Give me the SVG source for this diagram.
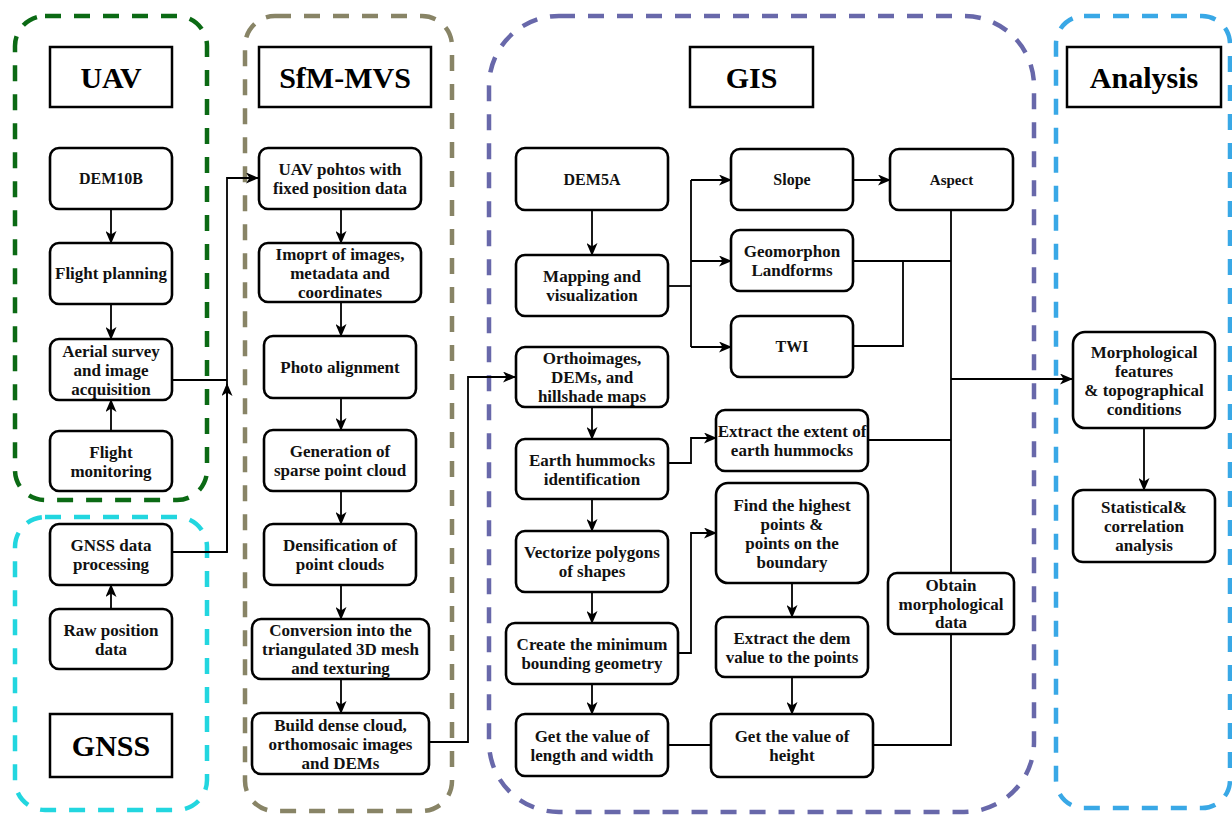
<svg xmlns="http://www.w3.org/2000/svg" width="1232" height="816" viewBox="0 0 1232 816">
<defs>
<marker id="ah" markerUnits="userSpaceOnUse" markerWidth="13" markerHeight="11" refX="12" refY="5.5" orient="auto">
<path d="M0,0 L13,5.5 L0,11 L3.5,5.5 z" fill="#000"/>
</marker>
<style>
.cont{fill:none;stroke-width:4.5;stroke-dasharray:16 13}
.title rect{fill:#fff;stroke:#000;stroke-width:2.5}
.title text{font-family:"Liberation Serif",serif;font-weight:bold;font-size:30px;text-anchor:middle;dominant-baseline:central;fill:#000}
.node rect{fill:#fff;stroke:#000;stroke-width:2.6}
.node text{font-family:"Liberation Serif",serif;font-weight:bold;font-size:17px;text-anchor:middle;dominant-baseline:central;fill:#111}
.sm text{font-size:16px}
#conn path{fill:none;stroke:#000;stroke-width:1.8}
#conn path.a{marker-end:url(#ah)}
</style>
</defs>
<rect width="1232" height="816" fill="#fff"/>
<g id="containers">
<rect class="cont" x="15" y="16" width="192" height="484" rx="30" stroke="#0b6a14"/>
<rect class="cont" x="15" y="517" width="192" height="293" rx="30" stroke="#22d6df"/>
<rect class="cont" x="245" y="16" width="207" height="795" rx="30" stroke="#888466"/>
<rect class="cont" x="489" y="16" width="545" height="796" rx="70" stroke="#6868aa"/>
<rect class="cont" x="1056" y="16" width="174" height="792" rx="28" stroke="#39a8e6"/>
</g>
<g id="conn">
<path class="a" d="M111,209 V243"/>
<path class="a" d="M111,304 V339"/>
<path class="a" d="M111,431 V400"/>
<path class="a" d="M111,609 V585"/>
<path d="M172,380 H227"/>
<path class="a" d="M172,552 H227 V178 H258"/>
<path class="a" d="M227,552 V384"/>
<path class="a" d="M341,209 V243"/>
<path class="a" d="M341,302 V336"/>
<path class="a" d="M341,398 V430"/>
<path class="a" d="M341,491 V524"/>
<path class="a" d="M341,585 V619"/>
<path class="a" d="M341,679 V713"/>
<path class="a" d="M429,742 H468 V377 H515"/>
<path class="a" d="M592,210 V255"/>
<path class="a" d="M592,407 V439"/>
<path class="a" d="M592,499 V531"/>
<path class="a" d="M592,592 V623"/>
<path class="a" d="M592,684 V714"/>
<path d="M668,286 H691"/>
<path d="M691,180 V347"/>
<path class="a" d="M691,180 H731"/>
<path class="a" d="M691,261 H731"/>
<path class="a" d="M691,347 H731"/>
<path class="a" d="M853,180 H890"/>
<path d="M951,210 V573"/>
<path d="M853,261 H951"/>
<path d="M853,346 H903 V261"/>
<path d="M868,440 H951"/>
<path class="a" d="M951,379 H1072"/>
<path d="M951,634 V745 H873"/>
<path d="M668,745 H711"/>
<path class="a" d="M668,463 H691 V438 H716"/>
<path class="a" d="M678,653 H691 V533 H716"/>
<path class="a" d="M792,583 V617"/>
<path class="a" d="M792,677 V714"/>
<path class="a" d="M1144,428 V490"/>
</g>
<g id="t-uav" class="title"><rect x="50" y="47" width="122" height="60"/><text x="111" y="77">UAV</text></g>
<g id="t-gnss" class="title"><rect x="50" y="714" width="122" height="63"/><text x="111" y="745.5">GNSS</text></g>
<g id="t-sfm" class="title"><rect x="259" y="47" width="172" height="60"/><text x="345" y="77">SfM-MVS</text></g>
<g id="t-gis" class="title"><rect x="690" y="47" width="123" height="60"/><text x="751.5" y="77">GIS</text></g>
<g id="t-analysis" class="title"><rect x="1067" y="47" width="154" height="60"/><text x="1144" y="77">Analysis</text></g>

<g id="n-dem10b" class="node sm"><rect x="50" y="148" width="122" height="61" rx="9"/><text x="111" y="178.5">DEM10B</text></g>
<g id="n-flightplan" class="node"><rect x="50" y="243" width="122" height="61" rx="9"/><text x="111" y="273.5">Flight planning</text></g>
<g id="n-aerial" class="node"><rect x="50" y="339" width="122" height="61" rx="9"/><text><tspan x="111" y="350.5">Aerial survey</tspan><tspan x="111" y="369.5">and image</tspan><tspan x="111" y="388.5">acquisition</tspan></text></g>
<g id="n-flightmon" class="node"><rect x="50" y="431" width="122" height="60" rx="9"/><text><tspan x="111" y="451.5">Flight</tspan><tspan x="111" y="470.5">monitoring</tspan></text></g>
<g id="n-gnssproc" class="node"><rect x="50" y="524" width="122" height="61" rx="9"/><text><tspan x="111" y="545">GNSS data</tspan><tspan x="111" y="564">processing</tspan></text></g>
<g id="n-raw" class="node"><rect x="50" y="609" width="122" height="60" rx="9"/><text><tspan x="111" y="629.5">Raw position</tspan><tspan x="111" y="648.5">data</tspan></text></g>

<g id="n-photos" class="node"><rect x="259" y="148" width="162" height="61" rx="9"/><text><tspan x="340" y="169">UAV pohtos with</tspan><tspan x="340" y="188">fixed position data</tspan></text></g>
<g id="n-import" class="node"><rect x="259" y="243" width="162" height="59" rx="9"/><text><tspan x="340" y="253.5">Imoprt of images,</tspan><tspan x="340" y="272.5">metadata and</tspan><tspan x="340" y="291.5">coordinates</tspan></text></g>
<g id="n-align" class="node"><rect x="264" y="336" width="152" height="62" rx="9"/><text x="340" y="367">Photo alignment</text></g>
<g id="n-sparse" class="node"><rect x="264" y="430" width="152" height="61" rx="9"/><text><tspan x="340" y="451">Generation of</tspan><tspan x="340" y="470">sparse point cloud</tspan></text></g>
<g id="n-dense" class="node"><rect x="264" y="524" width="152" height="61" rx="9"/><text><tspan x="340" y="545">Densification of</tspan><tspan x="340" y="564">point clouds</tspan></text></g>
<g id="n-mesh" class="node"><rect x="252" y="619" width="177" height="60" rx="9"/><text><tspan x="340.5" y="630">Conversion into the</tspan><tspan x="340.5" y="649">triangulated 3D mesh</tspan><tspan x="340.5" y="668">and texturing</tspan></text></g>
<g id="n-build" class="node"><rect x="252" y="713" width="177" height="61" rx="9"/><text><tspan x="340.5" y="724.5">Build dense cloud,</tspan><tspan x="340.5" y="743.5">orthomosaic images</tspan><tspan x="340.5" y="762.5">and DEMs</tspan></text></g>

<g id="n-dem5a" class="node sm"><rect x="516" y="148" width="152" height="62" rx="9"/><text x="592" y="179">DEM5A</text></g>
<g id="n-mapping" class="node"><rect x="516" y="255" width="152" height="61" rx="9"/><text><tspan x="592" y="276">Mapping and</tspan><tspan x="592" y="295">visualization</tspan></text></g>
<g id="n-ortho" class="node"><rect x="516" y="347" width="152" height="60" rx="9"/><text><tspan x="592" y="358">Orthoimages,</tspan><tspan x="592" y="377">DEMs, and</tspan><tspan x="592" y="396">hillshade maps</tspan></text></g>
<g id="n-earth" class="node"><rect x="516" y="439" width="152" height="60" rx="9"/><text><tspan x="592" y="459.5">Earth hummocks</tspan><tspan x="592" y="478.5">identification</tspan></text></g>
<g id="n-vector" class="node"><rect x="516" y="531" width="152" height="61" rx="9"/><text><tspan x="592" y="552">Vectorize polygons</tspan><tspan x="592" y="571">of shapes</tspan></text></g>
<g id="n-bounding" class="node"><rect x="506" y="623" width="172" height="61" rx="9"/><text><tspan x="592" y="644">Create the minimum</tspan><tspan x="592" y="663">bounding geometry</tspan></text></g>
<g id="n-length" class="node"><rect x="516" y="714" width="152" height="62" rx="9"/><text><tspan x="592" y="735.5">Get the value of</tspan><tspan x="592" y="754.5">length and width</tspan></text></g>
<g id="n-slope" class="node sm"><rect x="731" y="149" width="122" height="61" rx="9"/><text x="792" y="179.5">Slope</text></g>
<g id="n-geomorphon" class="node"><rect x="731" y="230" width="122" height="61" rx="9"/><text><tspan x="792" y="251">Geomorphon</tspan><tspan x="792" y="270">Landforms</tspan></text></g>
<g id="n-twi" class="node sm"><rect x="731" y="316" width="122" height="61" rx="9"/><text x="792" y="346.5">TWI</text></g>
<g id="n-extent" class="node"><rect x="716" y="410" width="152" height="61" rx="9"/><text><tspan x="792" y="431">Extract the extent of</tspan><tspan x="792" y="450">earth hummocks</tspan></text></g>
<g id="n-highest" class="node"><rect x="716" y="483" width="152" height="100" rx="12"/><text><tspan x="792" y="504.5">Find the highest</tspan><tspan x="792" y="523.5">points &amp;</tspan><tspan x="792" y="542.5">points on the</tspan><tspan x="792" y="561.5">boundary</tspan></text></g>
<g id="n-demval" class="node"><rect x="716" y="617" width="152" height="60" rx="9"/><text><tspan x="792" y="637.5">Extract the dem</tspan><tspan x="792" y="656.5">value to the points</tspan></text></g>
<g id="n-height" class="node"><rect x="711" y="714" width="162" height="63" rx="9"/><text><tspan x="792" y="736">Get the value of</tspan><tspan x="792" y="755">height</tspan></text></g>
<g id="n-aspect" class="node sm"><rect x="890" y="149" width="123" height="61" rx="9"/><text x="951.5" y="179.5" style="font-size:15px">Aspect</text></g>
<g id="n-obtain" class="node"><rect x="888" y="573" width="126" height="61" rx="9"/><text><tspan x="951" y="585">Obtain</tspan><tspan x="951" y="603.5">morphological</tspan><tspan x="951" y="622">data</tspan></text></g>

<g id="n-morph" class="node"><rect x="1073" y="332" width="142" height="96" rx="12"/><text><tspan x="1144" y="351.5">Morphological</tspan><tspan x="1144" y="370.5">features</tspan><tspan x="1144" y="389.5">&amp; topographical</tspan><tspan x="1144" y="408.5">conditions</tspan></text></g>
<g id="n-stat" class="node"><rect x="1073" y="490" width="142" height="72" rx="10"/><text><tspan x="1144" y="507">Statistical&amp;</tspan><tspan x="1144" y="526">correlation</tspan><tspan x="1144" y="545">analysis</tspan></text></g>
</svg>
